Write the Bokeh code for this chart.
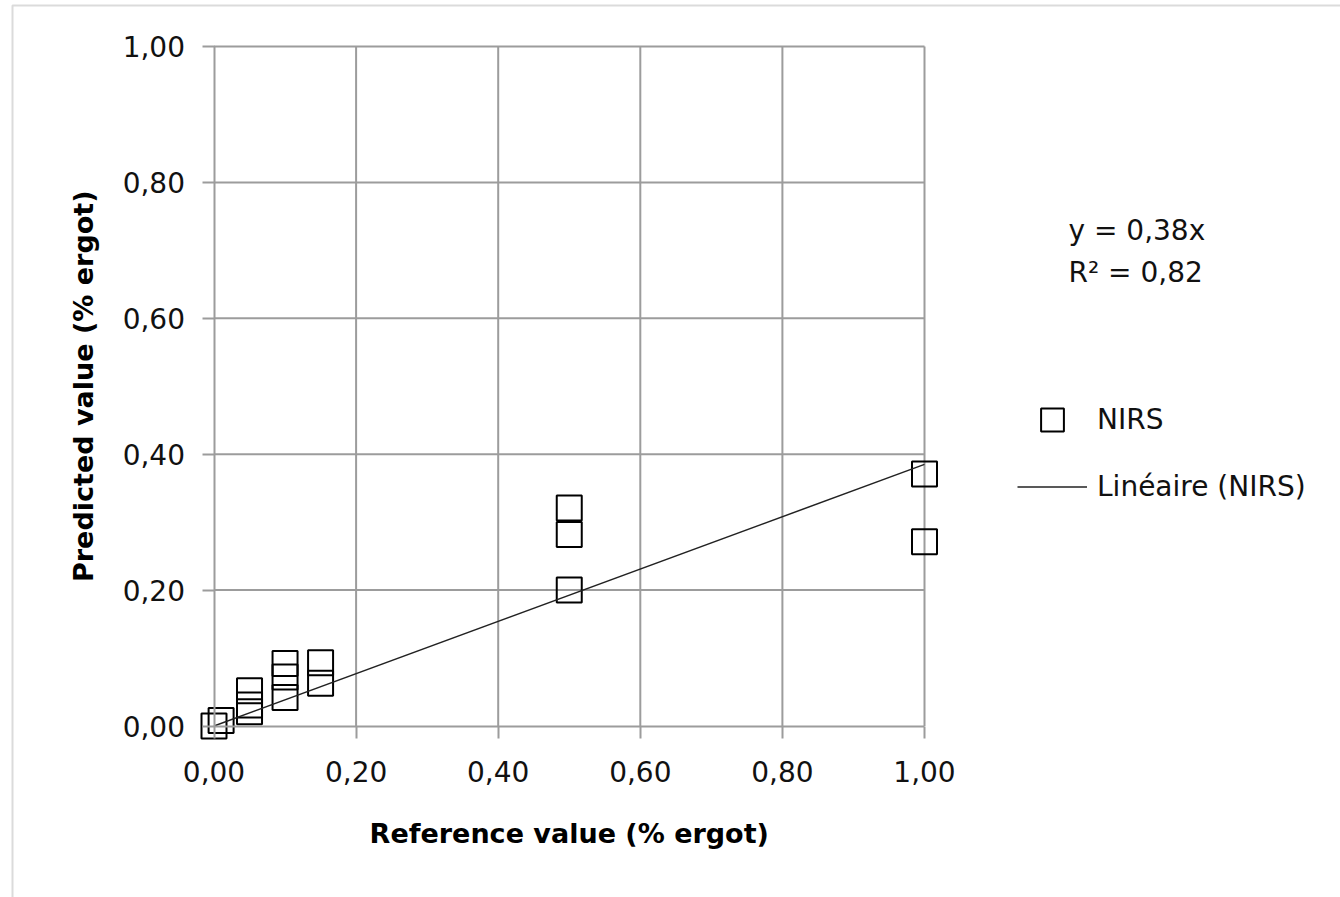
import numpy as np
from bokeh.plotting import figure
from bokeh.models import (Range1d, LinearAxis, FixedTicker, CustomJSTickFormatter,
                          Label, Legend, LegendItem, BoxAnnotation)
from bokeh.embed import file_html
from bokeh.resources import INLINE

# ---------------- data ----------------
ref_value = [0.00, 0.01, 0.05, 0.05, 0.05, 0.10, 0.10, 0.10, 0.15, 0.15,
             0.50, 0.50, 0.50, 1.00, 1.00]
predicted = [0.000, 0.008, 0.052, 0.031, 0.021, 0.092, 0.072, 0.042, 0.093, 0.063,
             0.321, 0.282, 0.200, 0.371, 0.271]
trend_x = [0.0, 1.0]
trend_slope = 0.385
tick_values = [0.0, 0.2, 0.4, 0.6, 0.8, 1.0]
tick_labels = ["0,00", "0,20", "0,40", "0,60", "0,80", "1,00"]
equation_text = "y = 0,38x"
r2_text = "R\u00b2 = 0,82"
series_name = "NIRS"
trend_name = "Lin\u00e9aire (NIRS)"
x_title = "Reference value (% ergot)"
y_title = "Predicted value (% ergot)"

# ---------------- layout helpers ----------------
W, H = 1340, 897
X0, X1 = 213.5, 924.0   # pixel positions of x = 0 and x = 1
Y0, Y1 = 725.5, 46.0    # pixel positions of y = 0 and y = 1


def dx(px):
    return (px - X0) / (X1 - X0)


def dy(py):
    return (Y0 - py) / (Y0 - Y1)


GRID = "#9c9c9c"
FONT = "DejaVu Sans"
TXT = "#111111"

p = figure(width=W, height=H,
           x_range=Range1d(dx(0), dx(W)), y_range=Range1d(dy(H), dy(0)),
           x_axis_type=None, y_axis_type=None,
           output_backend="svg", toolbar_location=None,
           min_border=0, outline_line_color=None)
p.min_border_left = 0
p.min_border_right = 0
p.min_border_top = 0
p.min_border_bottom = 0
p.background_fill_color = "white"
p.border_fill_color = "white"

# gridlines (inside the 0..1 plot area only)
lo, hi = tick_values[0], tick_values[-1]
gv = tick_values[1:]
p.segment(x0=gv, y0=[lo] * len(gv), x1=gv, y1=[hi] * len(gv),
          line_color=GRID, line_width=2)
p.segment(x0=[lo] * len(gv), y0=gv, x1=[hi] * len(gv), y1=gv,
          line_color=GRID, line_width=2)

fmt = CustomJSTickFormatter(args=dict(vals=tick_values, labs=tick_labels), code="""
let b = 0;
for (let i = 0; i < vals.length; i++) {
  if (Math.abs(vals[i] - tick) < Math.abs(vals[b] - tick)) b = i;
}
return labs[b];
""")


def make_axis(standoff):
    return LinearAxis(fixed_location=0, bounds=(lo, hi),
                      ticker=FixedTicker(ticks=tick_values), formatter=fmt,
                      major_tick_out=12, major_tick_in=0,
                      minor_tick_out=0, minor_tick_in=0,
                      axis_line_color=GRID, axis_line_width=2,
                      major_tick_line_color=GRID, major_tick_line_width=2,
                      major_label_text_font=FONT,
                      major_label_text_font_size="28px",
                      major_label_text_color=TXT,
                      major_label_standoff=standoff)


xaxis = make_axis(23)
yaxis = make_axis(17)
p.add_layout(xaxis, "below")
p.add_layout(yaxis, "left")

# data
sc = p.scatter(ref_value, predicted, marker="square", size=25,
               fill_color=None, line_color="black", line_width=2)
ty = [trend_slope * v for v in trend_x]
ln = p.line(trend_x, ty, line_color="#222222", line_width=1.5)

# axis titles
p.add_layout(Label(x=0.5, y=dy(833), text=x_title, text_align="center",
                   text_baseline="alphabetic", text_font=FONT,
                   text_font_style="bold", text_font_size="27px",
                   text_color="black"))
p.add_layout(Label(x=dx(83), y=0.5, text=y_title, angle=np.pi / 2,
                   text_align="center", text_baseline="alphabetic",
                   text_font=FONT, text_font_style="bold",
                   text_font_size="27px", text_color="black"))

# trend equation
p.add_layout(Label(x=dx(1068), y=dy(230), text=equation_text,
                   text_align="left", text_baseline="alphabetic",
                   text_font=FONT, text_font_size="28px", text_color=TXT))
p.add_layout(Label(x=dx(1068), y=dy(271.5), text=r2_text,
                   text_align="left", text_baseline="alphabetic",
                   text_font=FONT, text_font_size="28px", text_color=TXT))

# legend
legend = Legend(items=[LegendItem(label=series_name, renderers=[sc]),
                       LegendItem(label=trend_name, renderers=[ln])],
                location=(1017, 382), glyph_width=70, glyph_height=57,
                label_standoff=10, spacing=10, padding=0, margin=0,
                border_line_color=None, background_fill_alpha=0,
                label_text_font=FONT, label_text_font_size="28px",
                label_text_color=TXT, label_text_baseline="middle")
p.add_layout(legend)

# chart border
p.add_layout(BoxAnnotation(left=dx(12), right=dx(W + 60), top=dy(5),
                           bottom=dy(H + 60), fill_alpha=0,
                           line_color="#888888", line_width=2))

open("out.html", "w").write(file_html(p, INLINE))
